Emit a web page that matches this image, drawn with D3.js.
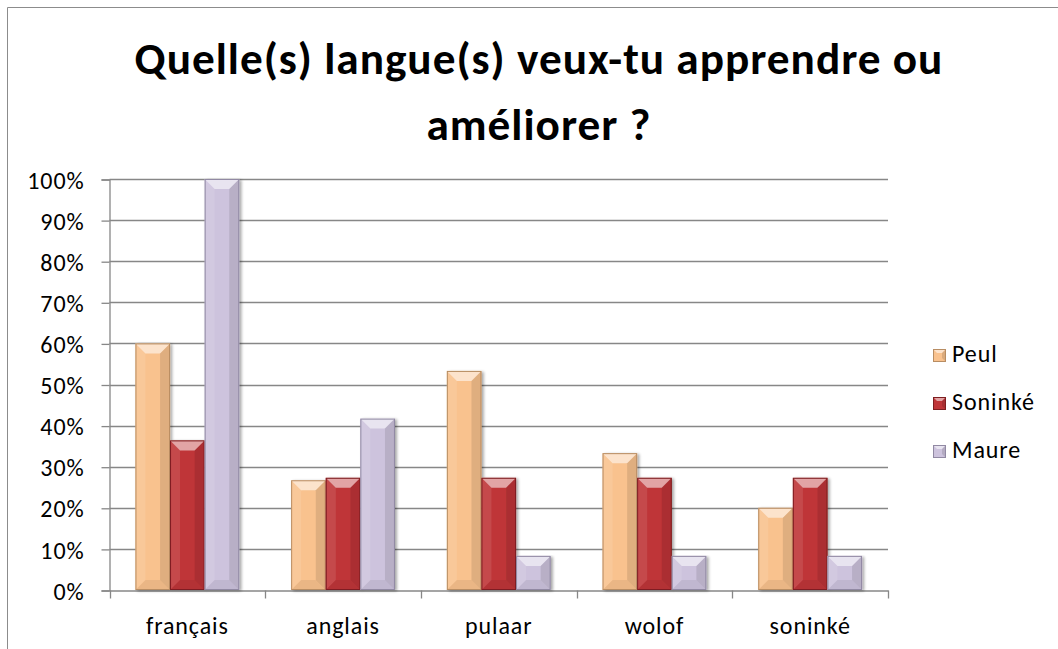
<!DOCTYPE html>
<html>
<head>
<meta charset="utf-8">
<script src="https://cdn.jsdelivr.net/npm/d3@7"></script>
<style>
  html, body { margin: 0; padding: 0; background: #fff; }
  svg { display: block; }
  text { font-family: Carlito, Calibri, Lato, "Open Sans", sans-serif; fill: #000; }
</style>
</head>
<body>
<svg id="chart" width="1058" height="649"></svg>
<script>
// Languages the respondents want to learn or improve, per ethnic group (%)
const categories = ["français", "anglais", "pulaar", "wolof", "soninké"];
const seriesNames = ["Peul", "Soninké", "Maure"];
const peul    = [60, 26.7, 53.3, 33.3, 20];
const soninke = [36.4, 27.3, 27.3, 27.3, 27.3];
const maure   = [100, 41.7, 8.3, 8.3, 8.3];
const yTicks  = [0, 10, 20, 30, 40, 50, 60, 70, 80, 90, 100];
const titleLines = ["Quelle(s) langue(s) veux-tu apprendre ou", "améliorer ?"];

const seriesValues = [peul, soninke, maure];
const fills   = ["#F9C28E", "#BF3538", "#CDC3DD"];
const strokes = ["#B88D63", "#7E1E20", "#9189A3"];
const labelSize = "24px";
const labelSpacing = "0.9px";

const svg = d3.select("#chart");

// chart frame
svg.append("path")
  .attr("d", "M7.5,649 V7.5 H1058")
  .attr("fill", "none").attr("stroke", "#8c8c8c").attr("stroke-width", 1);

// title
const title = svg.append("g");
titleLines.forEach((line, i) => {
  title.append("text")
    .attr("x", 539).attr("y", 74 + i * 66)
    .attr("text-anchor", "middle")
    .style("font-weight", "bold").style("font-size", "43px")
    .style("letter-spacing", "1px")
    .text(line);
});
// keep the first title line at its set width
{
  const t = title.select("text").node();
  const w = t.getComputedTextLength();
  const k = 811 / w;
  title.selectAll("text").style("font-size", (43 * k).toFixed(2) + "px");
}

const plotL = 109.5, plotR = 888, plotT = 179, plotB = 590;

const x0 = d3.scaleBand().domain(categories).range([plotL, plotR]).padding(0);
const x1 = d3.scaleBand().domain(seriesNames).range([0, x0.bandwidth()])
  .paddingInner(0).paddingOuter(0.75);
const y = d3.scaleLinear().domain([0, 100]).range([plotB, plotT]);

// horizontal gridlines
svg.append("g").selectAll("line").data(yTicks.slice(1)).join("line")
  .attr("x1", plotL).attr("x2", plotR)
  .attr("y1", d => Math.round(y(d)) + 0.5).attr("y2", d => Math.round(y(d)) + 0.5)
  .attr("stroke", "#878787").attr("stroke-width", 1.3);

// y axis
const yAxis = d3.axisLeft(y).tickValues(yTicks).tickFormat(d => d + "%").tickSize(8).tickPadding(17);
const gy = svg.append("g").attr("transform", `translate(${plotL},0.5)`).call(yAxis);
gy.select(".domain").attr("stroke", "#878787").attr("stroke-width", 1.3);
gy.selectAll(".tick line").attr("stroke", "#878787").attr("stroke-width", 1.3);
gy.selectAll(".tick text").style("font-size", labelSize).style("letter-spacing", labelSpacing)
  .attr("dy", "0.36em").attr("fill", "#000");

// x axis
const xAxis = d3.axisBottom(x0).tickSize(0).tickPadding(43);
const gx = svg.append("g").attr("transform", `translate(0,${plotB + 0.5})`).call(xAxis);
gx.select(".domain").attr("stroke", "#878787").attr("stroke-width", 1.3);
gx.selectAll(".tick text").style("font-size", labelSize).style("letter-spacing", labelSpacing)
  .attr("dy", 0).attr("fill", "#000");
// category separators below the axis
gx.append("g").selectAll("line")
  .data(categories.map(c => x0(c)).concat([plotR]))
  .join("line")
  .attr("x1", d => Math.round(d) + 0.5).attr("x2", d => Math.round(d) + 0.5)
  .attr("y1", 0).attr("y2", 8)
  .attr("stroke", "#878787").attr("stroke-width", 1.3);

// bevelled bars
const defs = svg.append("defs");
const shadow = defs.append("filter").attr("id", "shadow")
  .attr("x", "-20%").attr("y", "-5%").attr("width", "150%").attr("height", "115%");
shadow.append("feGaussianBlur").attr("in", "SourceAlpha").attr("stdDeviation", 1.5).attr("result", "b");
shadow.append("feOffset").attr("in", "b").attr("dx", 2).attr("dy", 1).attr("result", "o");
shadow.append("feComponentTransfer").attr("in", "o").attr("result", "s")
  .append("feFuncA").attr("type", "linear").attr("slope", 0.35);
const merge = shadow.append("feMerge");
merge.append("feMergeNode").attr("in", "s");
merge.append("feMergeNode").attr("in", "SourceGraphic");

const bars = [];
categories.forEach((c, ci) => {
  seriesNames.forEach((s, si) => {
    bars.push({ cat: c, series: s, si, value: seriesValues[si][ci] });
  });
});

svg.append("g").selectAll("g").data(bars).join("g")
  .attr("filter", "url(#shadow)")
  .each(function (d) {
    const g = d3.select(this);
    const xL = x0(d.cat) + x1(d.series);
    const w = x1.bandwidth();
    const yT = y(d.value);
    const h = plotB - yT;
    const b = Math.min(10, h / 2, w / 2);
    const xR = xL + w, yB = plotB;
    g.append("rect").attr("x", xL).attr("y", yT).attr("width", w).attr("height", h)
      .attr("fill", fills[d.si]);
    const poly = (pts, fill, op) => g.append("polygon")
      .attr("points", pts.map(p => p.join(",")).join(" "))
      .attr("fill", fill).attr("fill-opacity", op);
    // top facet (highlight)
    poly([[xL, yT], [xR, yT], [xR - b, yT + b], [xL + b, yT + b]], "#ffffff", 0.55);
    // left facet
    poly([[xL, yT], [xL + b, yT + b], [xL + b, yB - b], [xL, yB]], "#ffffff", 0.1);
    // right facet
    poly([[xR, yT], [xR - b, yT + b], [xR - b, yB - b], [xR, yB]], "#000000", 0.1);
    // bottom facet
    poly([[xL, yB], [xL + b, yB - b], [xR - b, yB - b], [xR, yB]], "#000000", 0.06);
    g.append("rect").attr("x", xL + 0.5).attr("y", yT + 0.5).attr("width", w - 1).attr("height", h - 1)
      .attr("fill", "none").attr("stroke", strokes[d.si]).attr("stroke-width", 1);
  });

// legend
const legend = svg.append("g").selectAll("g").data(seriesNames).join("g")
  .attr("transform", (d, i) => `translate(933,${349 + i * 48})`);
legend.each(function (d, i) {
  const g = d3.select(this);
  const s = 13, b = 4;
  g.append("rect").attr("width", s).attr("height", s).attr("fill", fills[i]);
  g.append("polygon").attr("points", `0,0 ${s},0 ${s - b},${b} ${b},${b}`).attr("fill", "#fff").attr("fill-opacity", 0.55);
  g.append("polygon").attr("points", `${s},0 ${s - b},${b} ${s - b},${s - b} ${s},${s}`).attr("fill", "#000").attr("fill-opacity", 0.12);
  g.append("rect").attr("x", 0.5).attr("y", 0.5).attr("width", s - 1).attr("height", s - 1)
    .attr("fill", "none").attr("stroke", strokes[i]);
  g.append("text").attr("x", 19).attr("y", 13)
    .style("font-size", labelSize).style("letter-spacing", labelSpacing).text(d);
});
</script>
</body>
</html>
